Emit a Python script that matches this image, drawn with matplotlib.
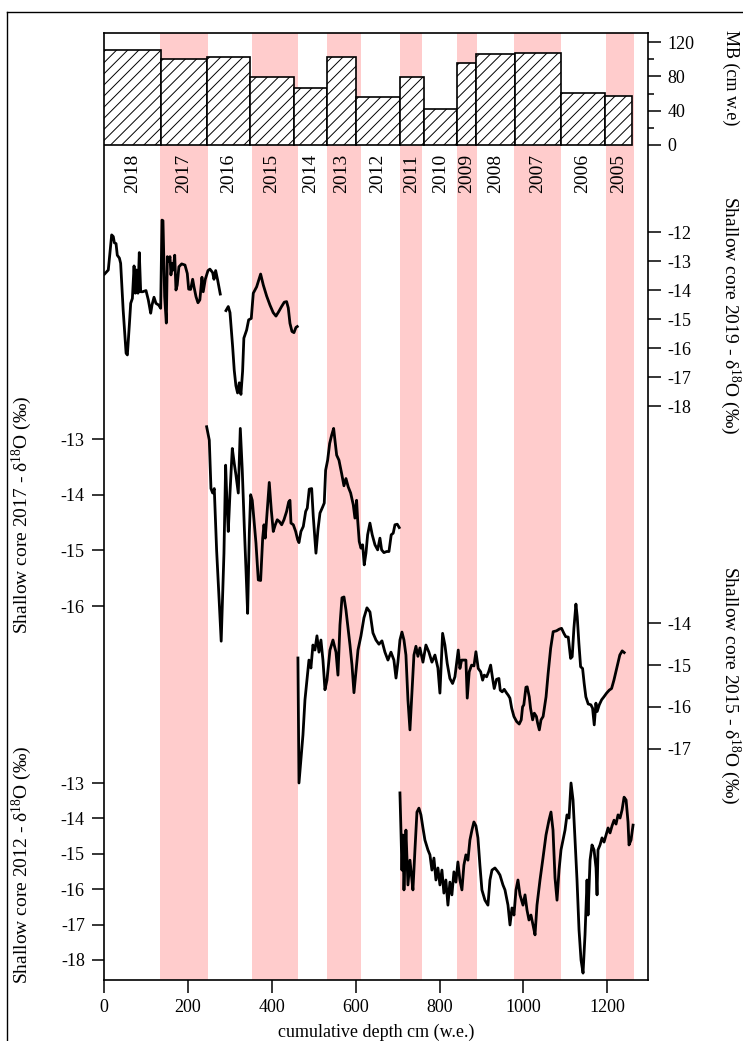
import numpy as np
import matplotlib
matplotlib.use('Agg')
import matplotlib.pyplot as plt
from matplotlib.lines import Line2D
from matplotlib import transforms

plt.rcParams['font.family'] = ['Liberation Serif', 'DejaVu Serif']
plt.rcParams['mathtext.fontset'] = 'custom'
plt.rcParams['mathtext.rm'] = 'Liberation Serif'
plt.rcParams['mathtext.it'] = 'Liberation Serif:italic'
plt.rcParams['axes.unicode_minus'] = False
plt.rcParams['hatch.linewidth'] = 0.7

# ---------------------------------------------------------------- data
years = ['2018', '2017', '2016', '2015', '2014', '2013', '2012', '2011', '2010', '2009', '2008', '2007', '2006', '2005']
year_edges = [0, 134.6, 245, 348, 452, 531.5, 601.7, 704.5, 762, 842.6, 885.7, 979.5, 1089, 1195.5, 1259]
mb = [111.4, 100.8, 103.2, 79.7, 66.8, 103.2, 55.9, 79, 41.9, 95.4, 106, 107.1, 61, 56.7]

band_start = [133, 352, 531, 706, 842, 978, 1196]
band_end = [247, 462, 612, 759, 889, 1089, 1264]

nan = np.nan
core2019_depth = [0.6, 9.5, 17.6, 21.5, 24, 28, 31, 36, 39, 45, 52, 55, 60, 63, 67, 71, 74, 77, 80.4, 83.5,
                  86.8, 91.5, 99.5, 105, 110.7, 113.8, 118.6, 123.3, 129.8, 134.5, 137.6, 140, 144, 148, 150.4,
                  153.7, 156.7, 159, 162.3, 164.6, 168, 171, 174, 178, 184.6, 192.5, 198, 201.3, 206, 210.8,
                  214, 218.8, 223.5, 228, 233, 236, 241, 247.4, 252, 258.5, 261.7, 265.7, 270.5, 276.7, 283,
                  290.3, 295.8, 299.9, 306.2, 310, 314, 318, 322, 326, 330, 333, 339.6, 344.4, 350.7, 355.5,
                  363.5, 373, 379.4, 387.4, 395.3, 403, 409.6, 416, 423, 429.4, 435, 439, 443, 447.8, 452.5,
                  457.3, 460.4]
core2019_d18o = [-13.45, -13.31, -12.1, -12.16, -12.37, -12.4, -12.8, -12.9, -13.08, -14.69, -16.18, -16.24,
                 -15.15, -14.46, -14.29, -13.17, -14.11, -13.31, -14.11, -12.71, -14.06, -14.06, -14.02, -14.34,
                 -14.8, -14.52, -14.25, -14.46, -14.52, -14.63, -11.59, -11.61, -14.23, -15.14, -12.85, -13.02,
                 -12.85, -13.48, -13.08, -13.31, -12.8, -14.0, -13.83, -13.2, -13.1, -13.14, -13.43, -13.97,
                 -13.98, -13.63, -13.89, -14.23, -14.44, -14.34, -13.56, -14.06, -13.63, -13.33, -13.28, -13.4,
                 -13.63, -13.33, -13.66, -14.14, nan, -14.71, -14.57, -14.78, -15.95, -16.76, -17.3, -17.55,
                 -17.2, -17.6, -16.8, -15.66, -15.38, -15.03, -14.98, -14.11, -13.89, -13.45, -13.83, -14.21,
                 -14.52, -14.78, -14.9, -14.75, -14.57, -14.42, -14.4, -14.62, -15.15, -15.43, -15.47, -15.29,
                 -15.26]

core2017_depth = [244.2, 250.5, 254.5, 258.5, 262.4, 268, 274.4, 278.9, 285.5, 289.5, 292.7, 295.8, 299.9,
                  305.4, 310.1, 314.2, 319.7, 324.5, 329.2, 334, 338.7, 342, 346, 349.2, 353, 357.1, 361.9,
                  367.4, 373, 377.9, 381, 384, 388.9, 393.6, 398.4, 403.2, 408, 412.7, 417.5, 423.2, 428.7,
                  435, 439.9, 443, 445.4, 451, 456.6, 461.4, 464.5, 469.2, 474.8, 480.5, 484.3, 489, 494.8,
                  498.6, 505, 509.8, 514.6, 521, 524.8, 528.1, 532.9, 537.7, 542.5, 547.2, 550.3, 554.4,
                  559.9, 566.3, 571.8, 576.6, 582, 587.8, 594, 598, 602, 604.5, 608.3, 612.4, 616.4, 620.2,
                  624.3, 628.3, 633.8, 639.3, 645.8, 652.2, 657.7, 661.7, 667.2, 673.7, 679.2, 684.6, 689.4,
                  693.5, 699, 703.7]
core2017_d18o = [-12.78, -13.02, -13.89, -13.97, -13.89, -15.0, -15.95, -16.63, -15.05, -13.47, -14.15, -14.66,
                 -13.97, -13.17, -13.44, -13.65, -13.97, -12.81, -13.56, -14.57, -15.47, -16.13, -14.69, -14.0,
                 -14.1, -14.45, -14.87, -15.53, -15.54, -14.78, -14.54, -14.78, -14.27, -13.78, -14.27, -14.66,
                 -14.54, -14.45, -14.48, -14.54, -14.45, -14.3, -14.13, -14.1, -14.51, -14.54, -14.66, -14.81,
                 -14.86, -14.66, -14.57, -14.3, -14.24, -13.9, -13.89, -14.39, -15.05, -14.63, -14.33, -14.22,
                 -14.15, -13.56, -13.38, -13.08, -12.93, -12.81, -13.02, -13.29, -13.38, -13.62, -13.84, -13.71,
                 -13.86, -13.97, -14.18, -14.42, -14.1, -14.45, -14.84, -14.96, -14.9, -15.26, -15.05, -14.72,
                 -14.51, -14.72, -14.9, -14.99, -14.78, -14.99, -15.04, -15.02, -15.02, -14.72, -14.69, -14.54,
                 -14.53, -14.59]

core2015_depth = [462, 464.5, 469, 474, 478.8, 483.5, 488.3, 493, 497.8, 502.6, 507.4, 512.2, 516.9, 521.7,
                  526.5, 531.3, 538.4, 545.6, 552.8, 557.5, 562.3, 567.1, 571.9, 576.6, 581.4, 586.2, 591,
                  595.7, 600.5, 605.3, 612.4, 619.5, 626.7, 633.9, 641, 648.2, 655.3, 662.5, 669.6, 676.8,
                  684, 691, 696, 700.6, 705.4, 710.2, 715, 719.7, 724.5, 729.3, 734, 738.8, 743.6, 748.3, 753,
                  760.3, 767.4, 774.5, 781.7, 788.9, 796, 800.8, 807.2, 812.7, 818.2, 824.6, 831, 836.6, 844.5,
                  848.5, 852.6, 858, 862.8, 866, 870.7, 876.4, 882, 886.7, 892.2, 898, 902.7, 906.5, 912.2,
                  917, 921.8, 926.5, 930.4, 936, 941.5, 944.7, 949.4, 954.2, 960, 963.8, 967.8, 972, 977.4,
                  983.8, 990, 994.8, 998, 1001, 1006, 1009, 1014, 1017, 1022, 1026, 1031, 1034, 1038, 1042,
                  1047, 1054, 1059, 1065, 1071, 1079, 1085.5, 1091, 1096.6, 1101, 1107, 1112.6, 1116.4,
                  1120.5, 1125.3, 1128.4, 1132.4, 1136.5, 1141.2, 1145, 1149, 1154.6, 1161, 1165, 1169, 1173,
                  1176, 1181, 1186.6, 1192, 1198.5, 1204.7, 1210.4, 1216, 1220.7, 1224.7, 1230, 1235.7, 1240.5]
core2015_d18o = [-14.83, -17.82, -17.27, -16.67, -15.83, -15.36, -14.88, -15.07, -14.52, -14.64, -14.3, -14.69,
                 -14.4, -14.88, -15.59, -15.36, -14.64, -14.4, -14.69, -15.24, -14.04, -13.39, -13.37, -13.68,
                 -14.11, -14.52, -15.0, -15.66, -15.16, -14.64, -14.3, -13.87, -13.63, -13.73, -14.23, -14.4,
                 -14.5, -14.42, -14.69, -14.88, -14.69, -14.88, -15.31, -14.93, -14.4, -14.21, -14.4, -14.76,
                 -15.83, -16.55, -15.64, -14.76, -14.55, -14.79, -14.59, -14.93, -14.52, -14.69, -14.93, -14.76,
                 -15.07, -15.67, -14.24, -14.52, -14.96, -15.32, -15.44, -15.28, -14.64, -15.08, -14.88, -14.88,
                 -14.88, -15.79, -15.16, -15.0, -15.02, -14.68, -15.08, -15.16, -15.36, -15.24, -15.28, -15.16,
                 -15.0, -15.32, -15.56, -15.34, -15.32, -15.6, -15.64, -15.58, -15.67, -15.72, -15.79, -16.03,
                 -16.23, -16.35, -16.41, -16.31, -16.0, -15.95, -15.53, -15.52, -15.76, -16.03, -16.31, -16.15,
                 -16.23, -16.39, -16.55, -16.31, -16.23, -15.76, -15.2, -14.6, -14.2, -14.18, -14.14, -14.12,
                 -14.24, -14.32, -14.33, -14.84, -14.8, -14.12, -13.54, -13.84, -14.48, -15.04, -15.08, -15.44,
                 -15.76, -15.93, -15.95, -16.03, -16.43, -15.91, -16.11, -15.95, -15.83, -15.76, -15.67, -15.6,
                 -15.56, -15.36, -15.16, -15.0, -14.76, -14.66, -14.7]

core2012_depth = [705.4, 707.8, 710.2, 712.6, 715, 717.3, 719.7, 724.5, 729.3, 734, 736.4, 741.2, 746, 750.7,
                  755.5, 760.3, 765, 772.2, 777, 781.7, 786.5, 791.3, 796, 800.8, 805.6, 810.3, 815, 819.9,
                  824.6, 829.4, 834.2, 839, 843.7, 848.5, 853.3, 858, 862.8, 867.6, 872.4, 877.2, 881.9, 886.7,
                  891.5, 896.2, 901, 908.2, 915.4, 920.2, 925, 932.1, 939.3, 944, 951.2, 956, 963.2, 968,
                  972.7, 977.5, 982.3, 987, 991.8, 999, 1003.8, 1008.6, 1013.3, 1018, 1022.9, 1027.7, 1032.4,
                  1039.6, 1046.7, 1053.9, 1061, 1065.8, 1070.6, 1075.4, 1080.2, 1085, 1089.7, 1094.5, 1099.3,
                  1104, 1108.8, 1113.6, 1118.4, 1123.2, 1127.9, 1132.7, 1137.5, 1142.3, 1147, 1151.8, 1154.2,
                  1159, 1163.7, 1168.5, 1173.3, 1175.7, 1178, 1182.8, 1187.6, 1192.4, 1197.2, 1202, 1206.7,
                  1211.5, 1216.3, 1221, 1225.8, 1230.6, 1235.4, 1240.2, 1245, 1249.6, 1252, 1256.8, 1261.6]
core2012_d18o = [-13.28, -14.33, -15.46, -14.47, -16.02, -15.18, -14.33, -15.88, -15.18, -15.74, -16.02, -14.89,
                 -13.82, -13.71, -13.9, -14.27, -14.61, -14.89, -15.03, -15.46, -15.12, -15.74, -15.4, -15.88,
                 -15.46, -16.11, -15.74, -16.45, -15.8, -16.16, -15.51, -15.8, -15.23, -15.74, -16.02, -15.32,
                 -15.03, -15.18, -14.61, -14.33, -14.1, -14.21, -14.55, -15.32, -16.02, -16.31, -16.45, -15.74,
                 -15.46, -15.4, -15.51, -15.6, -15.88, -16.02, -16.45, -17.01, -16.53, -16.73, -16.02, -15.74,
                 -16.16, -16.45, -16.16, -16.59, -16.87, -16.73, -17.01, -17.29, -16.45, -15.74, -15.12, -14.47,
                 -14.05, -13.82, -14.33, -15.68, -16.31, -15.46, -14.89, -14.61, -14.33, -13.9, -13.99, -13.0,
                 -13.48, -14.61, -15.74, -17.15, -18.0, -18.37, -17.29, -15.74, -16.73, -15.18, -14.75, -14.89,
                 -15.4, -16.16, -14.89, -14.75, -14.55, -14.67, -14.47, -14.27, -14.41, -14.21, -14.05, -14.16,
                 -13.9, -13.99, -13.76, -13.4, -13.48, -14.1, -14.75, -14.61, -14.19]

# ---------------------------------------------------------------- layout (pixels of the 743x1041 picture)
W, H = 743, 1041
def fx(px): return px / W
def fy(py): return 1 - py / H

L, R, T, B = 104.3, 648.3, 33, 980      # frame box
pos = [fx(L), fy(B), fx(R) - fx(L), fy(T) - fy(B)]
TICK = dict(direction='out', length=9, width=1.1, labelsize=13, pad=5)

fig = plt.figure(figsize=(W / 100, H / 100), dpi=100)

# base axes: frame, pink year bands, depth axis
ax = fig.add_axes(pos)
ax.set_xlim(0, 1298)
ax.set_ylim(0, 1)
ax.set_yticks([])
for s0, s1 in zip(band_start, band_end):
    ax.axvspan(s0, s1, color='#ffcccc', lw=0)
ax.set_xticks(np.arange(0, 1201, 200))
ax.tick_params(axis='x', **TICK)
ax.set_xlabel('cumulative depth cm (w.e.)', fontsize=13, labelpad=5)
for sp in ax.spines.values():
    sp.set_linewidth(1.2)

def overlay(ref_val, ref_px, px_per_unit, side):
    # transparent axes over the frame, y scaled so ref_val sits at pixel row ref_px
    a = fig.add_axes(pos, facecolor='none')
    a.set_xlim(ax.get_xlim())
    a.set_ylim(ref_val - (B - ref_px) / px_per_unit, ref_val + (ref_px - T) / px_per_unit)
    for sp in a.spines.values():
        sp.set_visible(False)
    a.set_xticks([])
    a.yaxis.set_ticks_position(side)
    a.tick_params(axis='y', **TICK)
    return a

# mass balance bars
ax_mb = overlay(0, 144.7, 0.853, 'right')
widths = np.diff(year_edges)
ax_mb.bar(year_edges[:-1], mb, width=widths, align='edge', facecolor='white',
          edgecolor='black', hatch='///', lw=1.2)
ax_mb.set_yticks([0, 40, 80, 120])
ax_mb.set_yticks([20, 60, 100], minor=True)
ax_mb.tick_params(axis='y', which='minor', direction='out', length=4.5, width=1.1)

trans = transforms.blended_transform_factory(ax.transData, fig.transFigure)
centers = (np.array(year_edges[:-1]) + np.array(year_edges[1:])) / 2
for c, yr in zip(centers, years):
    ax.text(c, fy(173.5), yr, transform=trans, rotation=90, ha='center', va='center', fontsize=14)

# isotope cores
ax19 = overlay(-12, 232, 29.0, 'right')
ax19.plot(core2019_depth, core2019_d18o, color='black', lw=2.0)
ax19.set_yticks(np.arange(-18, -11))

ax17 = overlay(-13, 439, 55.7, 'left')
ax17.plot(core2017_depth, core2017_d18o, color='black', lw=2.0)
ax17.set_yticks(np.arange(-16, -12))

ax15 = overlay(-14, 623.3, 41.8, 'right')
ax15.plot(core2015_depth, core2015_d18o, color='black', lw=2.0)
ax15.set_yticks(np.arange(-17, -13))

ax12 = overlay(-13, 783, 35.4, 'left')
ax12.plot(core2012_depth, core2012_d18o, color='black', lw=2.0)
ax12.set_yticks(np.arange(-18, -12))

# axis titles
fig.text(fx(731), fy(78), 'MB (cm w.e)', rotation=270, ha='center', va='center', fontsize=13)
fig.text(fx(730), fy(315), 'Shallow core 2019 - δ$^{18}$O (‰)', rotation=270, ha='center', va='center', fontsize=14)
fig.text(fx(730), fy(685), 'Shallow core 2015 - δ$^{18}$O (‰)', rotation=270, ha='center', va='center', fontsize=14)
fig.text(fx(22), fy(515), 'Shallow core 2017 - δ$^{18}$O (‰)', rotation=90, ha='center', va='center', fontsize=14)
fig.text(fx(22), fy(865), 'Shallow core 2012 - δ$^{18}$O (‰)', rotation=90, ha='center', va='center', fontsize=14)

# outer border (cut by the picture edge on the right and bottom)
fig.add_artist(Line2D([fx(7), fx(7)], [fy(12), 0], color='black', lw=1.0))
fig.add_artist(Line2D([fx(7), 1], [fy(12), fy(12)], color='black', lw=1.0))

fig.savefig('out.png', dpi=100)
